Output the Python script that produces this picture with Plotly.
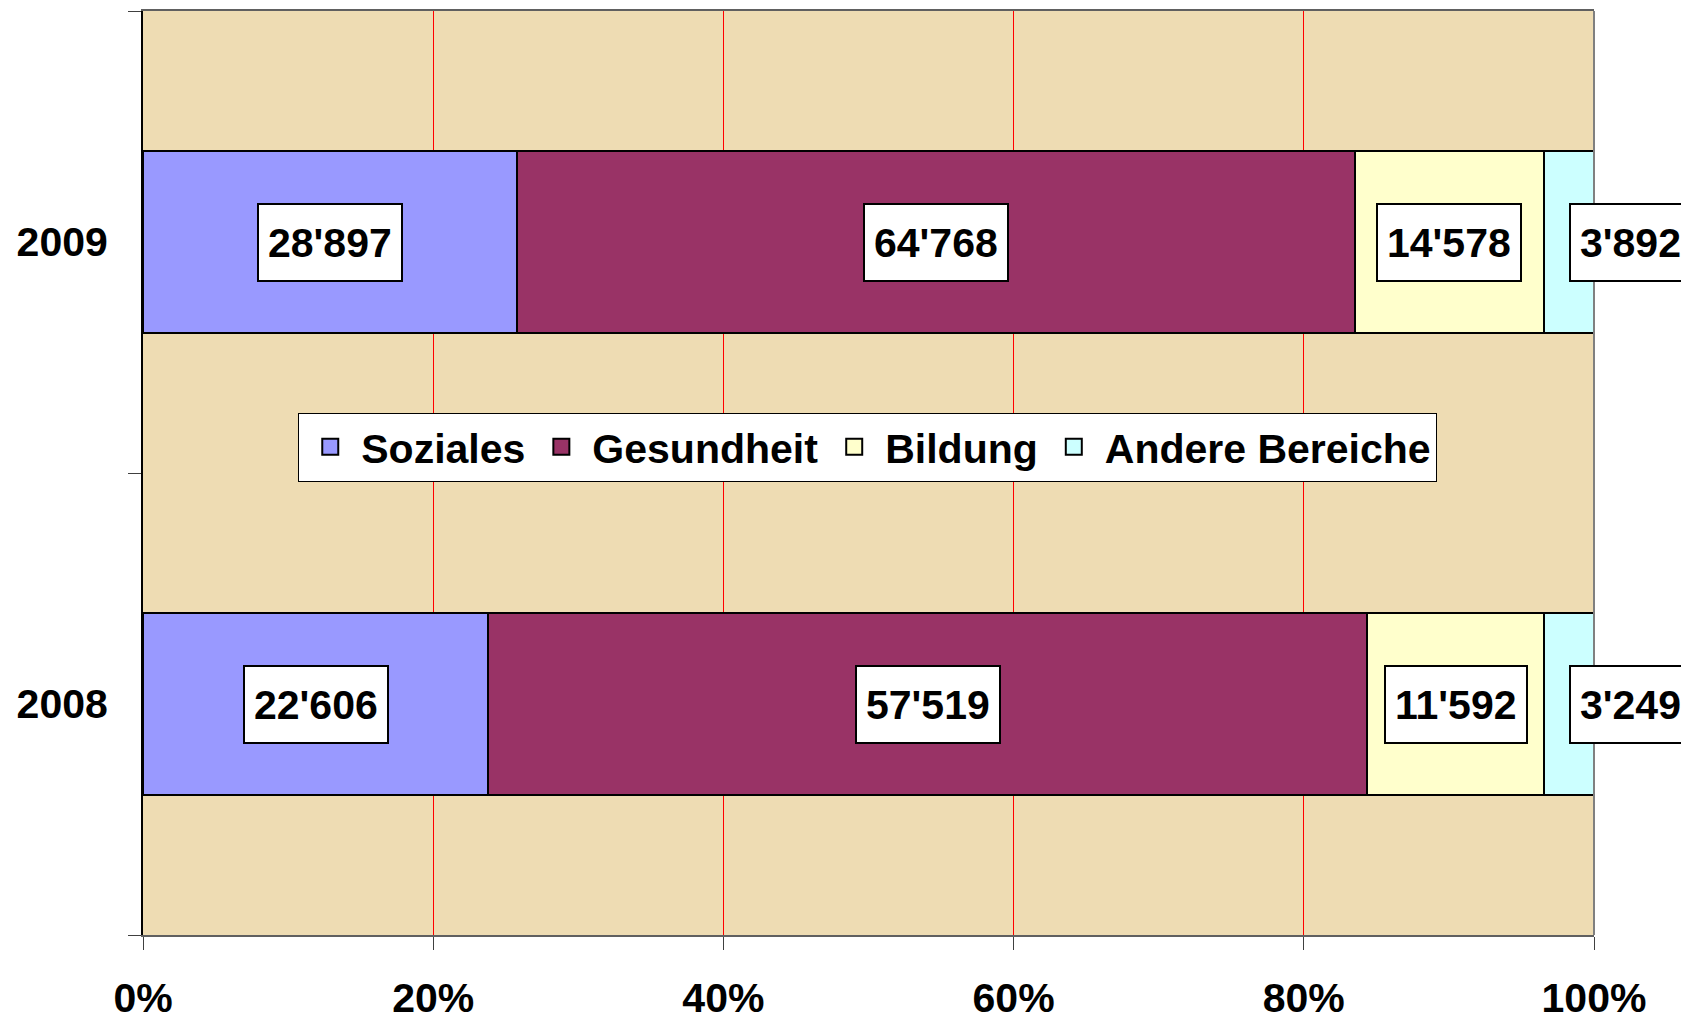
import plotly.graph_objects as go

years = ["2008", "2009"]
series_names = ["Soziales", "Gesundheit", "Bildung", "Andere Bereiche"]
soziales = [22606, 28897]
gesundheit = [57519, 64768]
bildung = [11592, 14578]
andere = [3249, 3892]
x_ticks = [0, 20, 40, 60, 80, 100]
x_tick_labels = ["0%", "20%", "40%", "60%", "80%", "100%"]

colors = ["#9999FF", "#993366", "#FFFFCC", "#CCFFFF"]
series_values = [soziales, gesundheit, bildung, andere]

FONT = "Liberation Sans, Arial, sans-serif"
FS = 41

fig = go.Figure()
for name, vals, col in zip(series_names, series_values, colors):
    fig.add_trace(go.Bar(
        y=years, x=vals, name=name, orientation="h",
        marker=dict(color=col, line=dict(color="black", width=2)),
        hoverinfo="skip", showlegend=False,
    ))
# legend entries with larger square swatches
for name, col in zip(series_names, colors):
    fig.add_trace(go.Scatter(
        x=[None], y=[None], mode="markers", name=name,
        marker=dict(symbol="square", size=22, color=col,
                    line=dict(color="black", width=2)),
        hoverinfo="skip",
    ))

# data labels (white boxes) centred on each segment
annotations = []
for i, yr in enumerate(years):
    total = sum(s[i] for s in series_values)
    cum = 0
    for s in series_values:
        v = s[i]
        pct = v / total * 100
        centre = cum + pct / 2
        cum += pct
        small = pct < 6
        annotations.append(dict(
            x=centre, y=i, xref="x", yref="y",
            text=f"{v:,}".replace(",", "'"),
            showarrow=False,
            xanchor="left" if small else "center",
            yanchor="middle",
            font=dict(family=FONT, size=FS, color="black", weight="bold"),
            bgcolor="white", bordercolor="black", borderwidth=2, borderpad=9,
            height=57,
        ))

# page body has an 8px default margin, so figure is sized/offset accordingly
fig.update_layout(
    width=1681, height=1010,
    margin=dict(l=135, r=95, t=3, b=83, autoexpand=False),
    barmode="stack", barnorm="percent", bargap=0.604,
    paper_bgcolor="white", plot_bgcolor="#EEDCB3",
    font=dict(family=FONT, size=FS, color="black", weight="bold"),
    annotations=annotations,
    showlegend=True,
    legend=dict(
        orientation="h", x=0.107, y=0.528, xanchor="left", yanchor="middle",
        bgcolor="white", bordercolor="black", borderwidth=1,
        font=dict(family=FONT, size=FS, color="black", weight="bold"),
        traceorder="normal", itemsizing="trace", itemwidth=52,
    ),
    shapes=[dict(type="line", xref="paper", yref="paper", x0=1, x1=1, y0=0, y1=1,
                 line=dict(color="#808080", width=2), layer="above")],
)

fig.update_xaxes(
    range=[0, 100], tickvals=x_ticks, ticktext=x_tick_labels,
    showgrid=True, gridcolor="#FF0000", gridwidth=1,
    showline=True, linecolor="#606060", linewidth=2, mirror=True,
    ticks="outside", ticklen=13, tickcolor="#404040", tickwidth=1,
    ticklabelstandoff=13, zeroline=False, automargin=False,
    tickfont=dict(family=FONT, size=FS, color="black", weight="bold"),
)
fig.update_yaxes(
    type="category", categoryorder="array", categoryarray=years,
    range=[-0.5, 1.5], autorange=False, automargin=False,
    showgrid=False, showline=True, linecolor="black", linewidth=2,
    ticks="outside", ticklen=13, tickcolor="#404040", tickwidth=1,
    tickson="boundaries", ticklabelstandoff=25,
    tickfont=dict(family=FONT, size=FS, color="black", weight="bold"),
)

fig.write_html("out.html")
